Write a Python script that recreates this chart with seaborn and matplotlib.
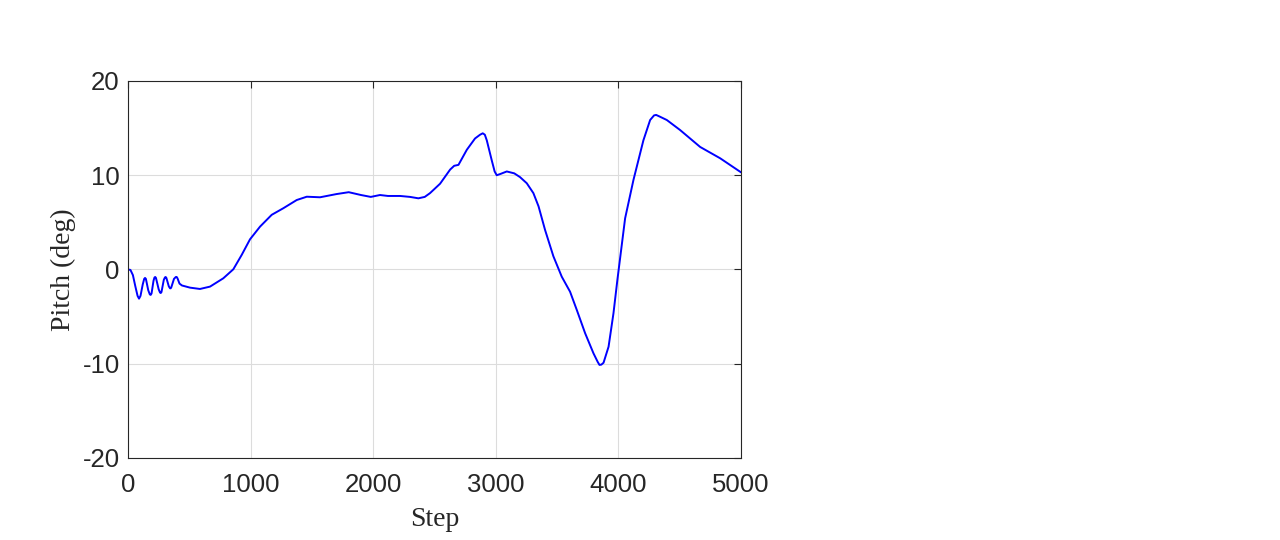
import numpy as np
import pandas as pd
import matplotlib
matplotlib.use("Agg")
import matplotlib.pyplot as plt
import seaborn as sns

steps = [0, 20, 40, 60, 78, 90, 102, 120, 132, 139, 146, 165, 178, 185, 192, 208, 216, 222, 228,
         250, 261, 267, 273, 292, 301, 307, 313, 333, 343, 348, 353, 375, 390, 397, 404, 420, 440,
         506, 587, 669, 777, 859, 927, 995, 1077, 1172, 1267, 1376, 1458, 1566, 1700, 1800,
         1900, 1980, 2055, 2120, 2219, 2300, 2368, 2420, 2463, 2545, 2627, 2660, 2695, 2763, 2830,
         2871, 2893, 2910, 2926, 2966, 2990, 3007, 3040, 3089, 3150, 3197, 3252, 3306, 3348, 3401,
         3469, 3537, 3605, 3660, 3728, 3796, 3830, 3845, 3860, 3878, 3919, 3959, 3991, 4054, 4122,
         4203, 4258, 4290, 4307, 4340, 4394, 4502, 4584, 4666, 4829, 5000]
pitch = [0.0, -0.05, -0.6, -1.8, -2.8, -3.1, -2.8, -1.6, -1.0, -0.9, -1.0, -2.2, -2.65, -2.7, -2.55, -1.2, -0.85, -0.8, -0.9,
         -2.1, -2.45, -2.5, -2.4, -1.1, -0.85, -0.8, -0.9, -1.8, -2.0, -2.0, -1.9, -1.0, -0.8, -0.8, -0.95, -1.5, -1.7,
         -1.93, -2.07, -1.82, -0.94, 0.02, 1.54, 3.2, 4.55, 5.8, 6.5, 7.37, 7.72, 7.66, 8.0, 8.2,
         7.9, 7.7, 7.9, 7.8, 7.8, 7.7, 7.55, 7.7, 8.1, 9.1, 10.6, 11.0, 11.1, 12.7, 13.9,
         14.3, 14.45, 14.3, 13.7, 11.6, 10.4, 10.0, 10.15, 10.4, 10.2, 9.8, 9.15, 8.1, 6.7, 4.2,
         1.4, -0.76, -2.36, -4.3, -6.77, -8.9, -9.8, -10.13, -10.1, -9.9, -8.2, -4.65, -1.1, 5.43, 9.5,
         13.7, 15.86, 16.35, 16.4, 16.2, 15.86, 14.8, 13.9, 13.0, 11.8, 10.3]

xticks = [0, 1000, 2000, 3000, 4000, 5000]
yticks = [-20, -10, 0, 10, 20]

df = pd.DataFrame({"Step": steps, "Pitch": pitch})

sns.set_style("white")
plt.rcParams["font.family"] = ["Liberation Sans", "DejaVu Sans"]

fig = plt.figure(figsize=(12.8, 5.4), dpi=100)
ax = fig.add_axes([0.1, 0.152, 0.479, 0.698])

sns.lineplot(data=df, x="Step", y="Pitch", ax=ax, color="#0000ff", linewidth=1.4,
             estimator=None, sort=False)

ax.set_xlim(0, 5000)
ax.set_ylim(-20, 20)
ax.set_xticks(xticks)
ax.set_yticks(yticks)
ax.set_xticklabels([str(t) for t in xticks])
ax.set_yticklabels([str(t) for t in yticks])
ax.tick_params(direction="in", top=True, right=True, length=5, width=0.8,
               labelsize=18.5, colors="#262626")
ax.tick_params(axis="x", pad=11)
ax.tick_params(axis="y", pad=6)
ax.grid(True, color="#dcdcdc", linewidth=0.8)
for s in ax.spines.values():
    s.set_visible(True)
    s.set_color("#262626")
    s.set_linewidth(0.8)

ax.set_xlabel("Step", family="Liberation Serif", fontsize=20, color="#262626")
ax.set_ylabel("Pitch (deg)", family="Liberation Serif", fontsize=20, color="#262626")
ax.xaxis.set_label_coords(0.5, -0.13)
ax.yaxis.set_label_coords(-0.085, 0.5)

fig.savefig("out.png", dpi=100, facecolor="white")
